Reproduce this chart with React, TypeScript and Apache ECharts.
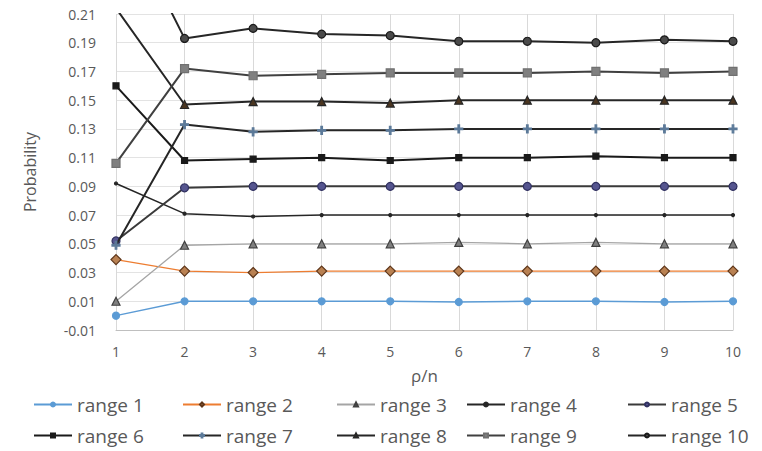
import React, { useEffect, useRef } from "react";
import * as echarts from "echarts";

const categories = ["1", "2", "3", "4", "5", "6", "7", "8", "9", "10"];
const seriesNames = ["range 1", "range 2", "range 3", "range 4", "range 5", "range 6", "range 7", "range 8", "range 9", "range 10"];

const range1 = [0.0, 0.010, 0.010, 0.010, 0.010, 0.0095, 0.010, 0.010, 0.0095, 0.010];
const range2 = [0.039, 0.031, 0.030, 0.031, 0.031, 0.031, 0.031, 0.031, 0.031, 0.031];
const range3 = [0.010, 0.049, 0.050, 0.050, 0.050, 0.051, 0.050, 0.051, 0.050, 0.050];
const range4 = [0.092, 0.071, 0.069, 0.070, 0.070, 0.070, 0.070, 0.070, 0.070, 0.070];
const range5 = [0.052, 0.089, 0.090, 0.090, 0.090, 0.090, 0.090, 0.090, 0.090, 0.090];
const range6 = [0.160, 0.108, 0.109, 0.110, 0.108, 0.110, 0.110, 0.111, 0.110, 0.110];
const range7 = [0.049, 0.133, 0.128, 0.129, 0.129, 0.130, 0.130, 0.130, 0.130, 0.130];
const range8 = [0.214, 0.147, 0.149, 0.149, 0.148, 0.150, 0.150, 0.150, 0.150, 0.150];
const range9 = [0.106, 0.172, 0.167, 0.168, 0.169, 0.169, 0.169, 0.170, 0.169, 0.170];
const range10 = [0.288, 0.193, 0.200, 0.196, 0.195, 0.191, 0.191, 0.190, 0.192, 0.191];

const yTicks = ["-0.01", "0.01", "0.03", "0.05", "0.07", "0.09", "0.11", "0.13", "0.15", "0.17", "0.19", "0.21"];

const FONT = "'Open Sans', 'DejaVu Sans', sans-serif";
const PLUS = "path://M4,0H6V4H10V6H6V10H4V6H0V4H4Z";

const styles = [
  { line: "#5B9BD5", w: 1.5, symbol: "circle", size: 7, fill: "#5B9BD5", border: "#5B9BD5" },
  { line: "#ED7D31", w: 1.2, symbol: "diamond", size: 10, fill: "#B98152", border: "#5E361A" },
  { line: "#A5A5A5", w: 1.3, symbol: "triangle", size: 8, fill: "#7F7F7F", border: "#404040" },
  { line: "#262626", w: 1.5, symbol: "circle", size: 3, fill: "#262626", border: "#262626" },
  { line: "#3A3A3A", w: 2, symbol: "circle", size: 8, fill: "#55558F", border: "#303060" },
  { line: "#1A1A1A", w: 2, symbol: "rect", size: 6, fill: "#1A1A1A", border: "#1A1A1A" },
  { line: "#262626", w: 2, symbol: PLUS, size: 8, fill: "#5C7A99", border: "#5C7A99" },
  { line: "#262626", w: 2, symbol: "triangle", size: 8, fill: "#4A3520", border: "#262626" },
  { line: "#404040", w: 2, symbol: "rect", size: 8, fill: "#808080", border: "#707070" },
  { line: "#262626", w: 2, symbol: "circle", size: 8, fill: "#4A4A4A", border: "#1A1A1A" },
];

const allData = [range1, range2, range3, range4, range5, range6, range7, range8, range9, range10];

const legendLefts = [33, 182, 336, 466, 627];

export default function App() {
  const ref = useRef<HTMLDivElement>(null);
  useEffect(() => {
    if (!ref.current) return;
    const chart = echarts.init(ref.current, undefined, { renderer: "svg" });
    const legends = seriesNames.map((name, i) => ({
      data: [name],
      left: legendLefts[i % 5],
      top: i < 5 ? 395 : 426,
      padding: 0,
      itemGap: 0,
      itemWidth: 38,
      itemHeight: 5,
      textStyle: { fontSize: 19, color: "#595959", fontFamily: FONT },
    }));
    chart.setOption({
      animation: false,
      backgroundColor: "#ffffff",
      grid: { left: 116, right: 29, top: 14, bottom: 121, containLabel: false },
      legend: legends,
      xAxis: {
        type: "category",
        data: categories,
        boundaryGap: false,
        name: "ρ/n",
        nameLocation: "middle",
        nameGap: 37,
        nameTextStyle: { fontSize: 17, color: "#595959", fontFamily: FONT },
        axisLine: { onZero: false, lineStyle: { color: "#BFBFBF" } },
        axisTick: { show: false },
        axisLabel: { fontSize: 14, color: "#595959", fontFamily: FONT, margin: 14 },
        splitLine: { show: true, lineStyle: { color: "#D9D9D9" } },
      },
      yAxis: {
        type: "value",
        min: -0.01,
        max: 0.21,
        interval: 0.02,
        name: "Probability",
        nameLocation: "middle",
        nameGap: 78,
        nameTextStyle: { fontSize: 16, color: "#595959", fontFamily: FONT },
        axisLine: { show: false },
        axisTick: { show: false },
        axisLabel: {
          fontSize: 14,
          color: "#595959",
          fontFamily: FONT,
          margin: 20,
          formatter: (v: number) => {
            const idx = Math.round((v + 0.01) / 0.02);
            return yTicks[idx] ?? v.toFixed(2);
          },
        },
        splitLine: { show: true, lineStyle: { color: "#E3E3E3" } },
      },
      series: seriesNames.map((name, i) => ({
        name,
        type: "line",
        data: allData[i],
        clip: true,
        symbol: styles[i].symbol,
        symbolSize: styles[i].size,
        showAllSymbol: true,
        lineStyle: { color: styles[i].line, width: styles[i].w },
        itemStyle: { color: styles[i].fill, borderColor: styles[i].border, borderWidth: 1.2 },
        z: 2 + i,
      })),
    });
    return () => chart.dispose();
  }, []);
  return <div ref={ref} style={{ position: "fixed", left: 0, top: 0, width: 762, height: 451 }} />;
}
